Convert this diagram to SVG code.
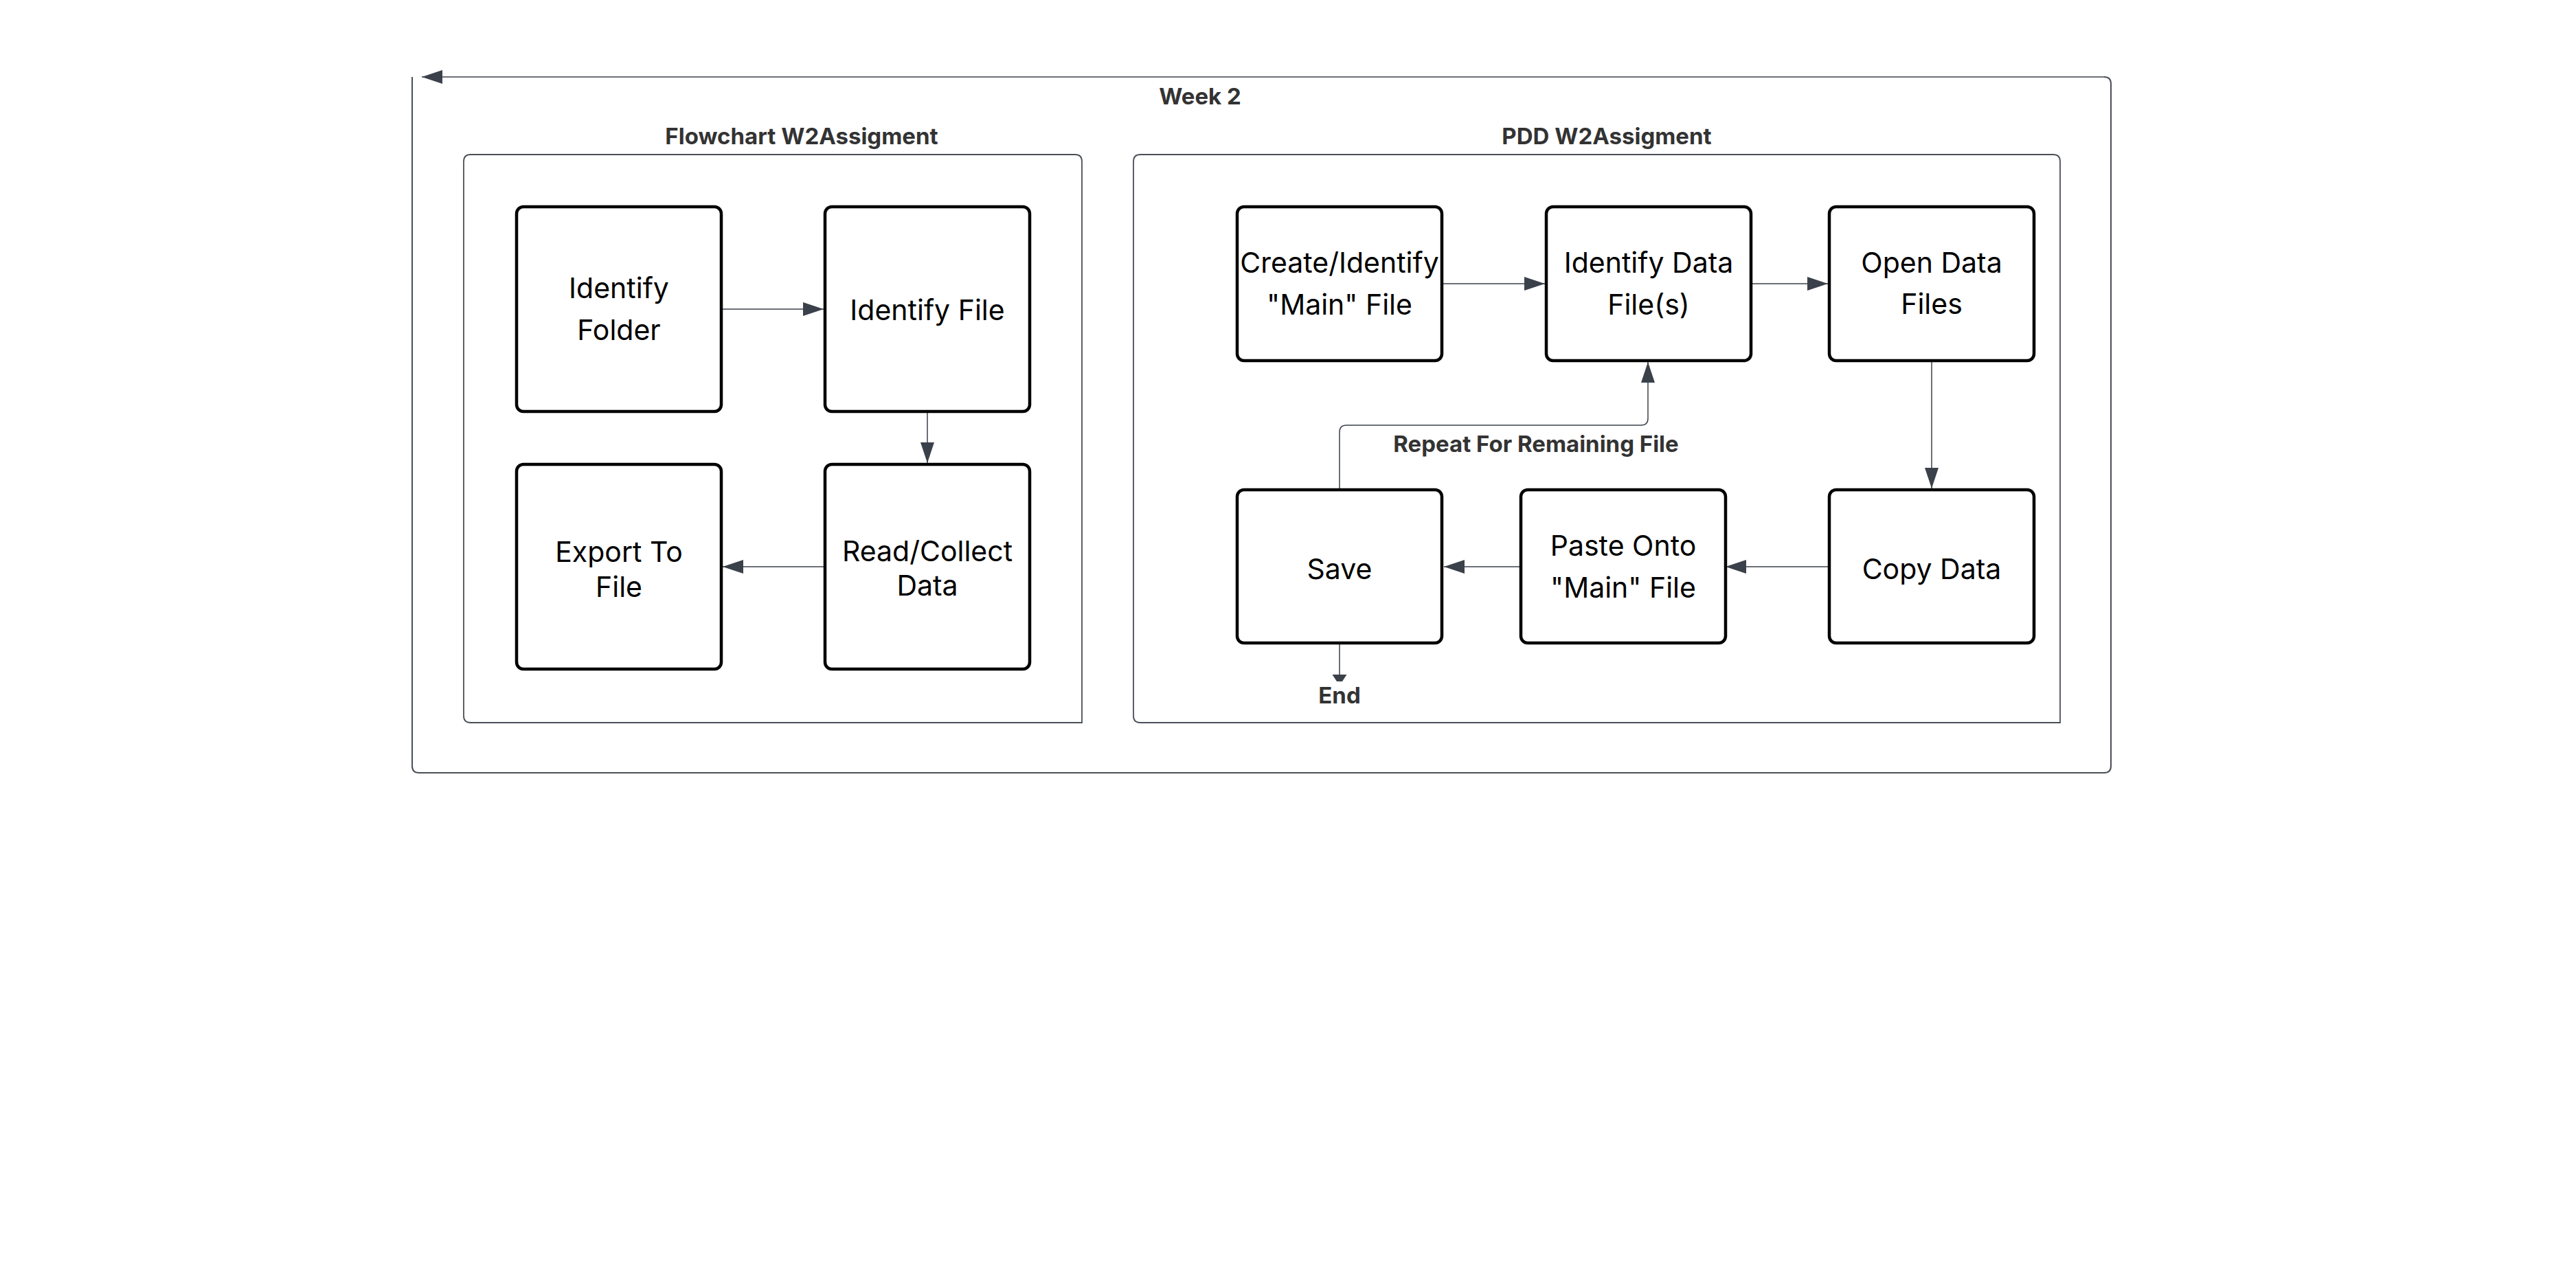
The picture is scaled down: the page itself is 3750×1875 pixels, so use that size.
<svg xmlns="http://www.w3.org/2000/svg" width="3750" height="1875" viewBox="0 0 3750 1875">
  <defs>
    <marker id="ah" markerUnits="userSpaceOnUse" markerWidth="30" markerHeight="20" refX="30" refY="10" orient="auto" viewBox="0 0 30 20">
      <path d="M0,0 L30,10 L0,20 Z" fill="#3b414a"/>
    </marker>
    <style>
      .frame { fill: none; stroke: #4a4f57; stroke-width: 2; }
      .cont { fill: none; stroke: #4a4f57; stroke-width: 1.8; }
      .node rect { fill: #ffffff; stroke: #000000; stroke-width: 4.5; }
      .node text { font-family: Inter, "Liberation Sans", sans-serif; font-size: 41px; fill: #000000; text-anchor: middle; }
      .lbl { font-family: Inter, "Liberation Sans", sans-serif; font-size: 33px; font-weight: 700; fill: #333333; text-anchor: middle; }
      .conn { fill: none; stroke: #3b414a; stroke-width: 1.5; }
    </style>
  </defs>
  <rect width="3750" height="1875" fill="#ffffff"/>

  <g id="week2">
    <path class="frame" d="M600,112 V1115 Q600,1125 610,1125 H3063 Q3073,1125 3073,1115 V122 Q3073,112 3063,112"/>
    <text class="lbl" x="1747" y="152">Week 2</text>
  </g>

  <g id="flowchart-container">
    <path class="cont" d="M685,1052 Q675,1052 675,1042 V235 Q675,225 685,225 H1565 Q1575,225 1575,235 V1052 Z"/>
    <text class="lbl" x="1167" y="210">Flowchart W2Assigment</text>
  </g>

  <g id="pdd-container">
    <path class="cont" d="M1660,1052 Q1650,1052 1650,1042 V235 Q1650,225 1660,225 H2989 Q2999,225 2999,235 V1052 Z"/>
    <text class="lbl" x="2339" y="210">PDD W2Assigment</text>
  </g>

  <g id="connectors">
    <path class="conn" d="M3063,112 H614" marker-end="url(#ah)" stroke-width="2"/>
    <path class="conn" d="M1052,450 H1199" marker-end="url(#ah)"/>
    <path class="conn" d="M1350,601 V674" marker-end="url(#ah)" stroke-width="2"/>
    <path class="conn" d="M1199,825 H1052" marker-end="url(#ah)"/>
    <path class="conn" d="M2101,413 H2249" marker-end="url(#ah)" stroke-width="1.2"/>
    <path class="conn" d="M2551,413 H2661" marker-end="url(#ah)" stroke-width="1.2"/>
    <path class="conn" d="M2812,526 V711" marker-end="url(#ah)" stroke-width="1.2"/>
    <path class="conn" d="M2661,825 H2512" marker-end="url(#ah)"/>
    <path class="conn" d="M2212,825 H2102" marker-end="url(#ah)" stroke-width="1.7"/>
    <path class="conn" d="M1950,711 V629 Q1950,619 1960,619 H2389 Q2399,619 2399,609 V527" marker-end="url(#ah)" stroke-width="1.3"/>
    <text class="lbl" x="2236" y="658">Repeat For Remaining File</text>
    <path class="conn" d="M1950,938 V983" stroke-width="2.2"/>
    <polygon points="1939.5,982 1960.5,982 1954,992 1946,992" fill="#3b414a"/>
    <text class="lbl" x="1950" y="1024">End</text>
  </g>

  <g id="identify-folder" class="node">
    <rect x="752" y="301" width="298" height="298" rx="10"/>
    <text x="901" y="434">Identify</text>
    <text x="901" y="495">Folder</text>
  </g>
  <g id="identify-file" class="node">
    <rect x="1201" y="301" width="298" height="298" rx="10"/>
    <text x="1350" y="466">Identify File</text>
  </g>
  <g id="export-to-file" class="node">
    <rect x="752" y="676" width="298" height="298" rx="10"/>
    <text x="901" y="818">Export To</text>
    <text x="901" y="869">File</text>
  </g>
  <g id="read-collect-data" class="node">
    <rect x="1201" y="676" width="298" height="298" rx="10"/>
    <text x="1350" y="817">Read/Collect</text>
    <text x="1350" y="867">Data</text>
  </g>

  <g id="create-identify-main" class="node">
    <rect x="1801" y="301" width="298" height="224" rx="10"/>
    <text x="1950" y="397">Create/Identify</text>
    <text x="1950" y="458">"Main" File</text>
  </g>
  <g id="identify-data-files" class="node">
    <rect x="2251" y="301" width="298" height="224" rx="10"/>
    <text x="2400" y="397">Identify Data</text>
    <text x="2400" y="458">File(s)</text>
  </g>
  <g id="open-data-files" class="node">
    <rect x="2663" y="301" width="298" height="224" rx="10"/>
    <text x="2812" y="397">Open Data</text>
    <text x="2812" y="457">Files</text>
  </g>
  <g id="save" class="node">
    <rect x="1801" y="713" width="298" height="223" rx="10"/>
    <text x="1950" y="843">Save</text>
  </g>
  <g id="paste-onto-main" class="node">
    <rect x="2214" y="713" width="298" height="223" rx="10"/>
    <text x="2363" y="809">Paste Onto</text>
    <text x="2363" y="870">"Main" File</text>
  </g>
  <g id="copy-data" class="node">
    <rect x="2663" y="713" width="298" height="223" rx="10"/>
    <text x="2812" y="843">Copy Data</text>
  </g>
</svg>
